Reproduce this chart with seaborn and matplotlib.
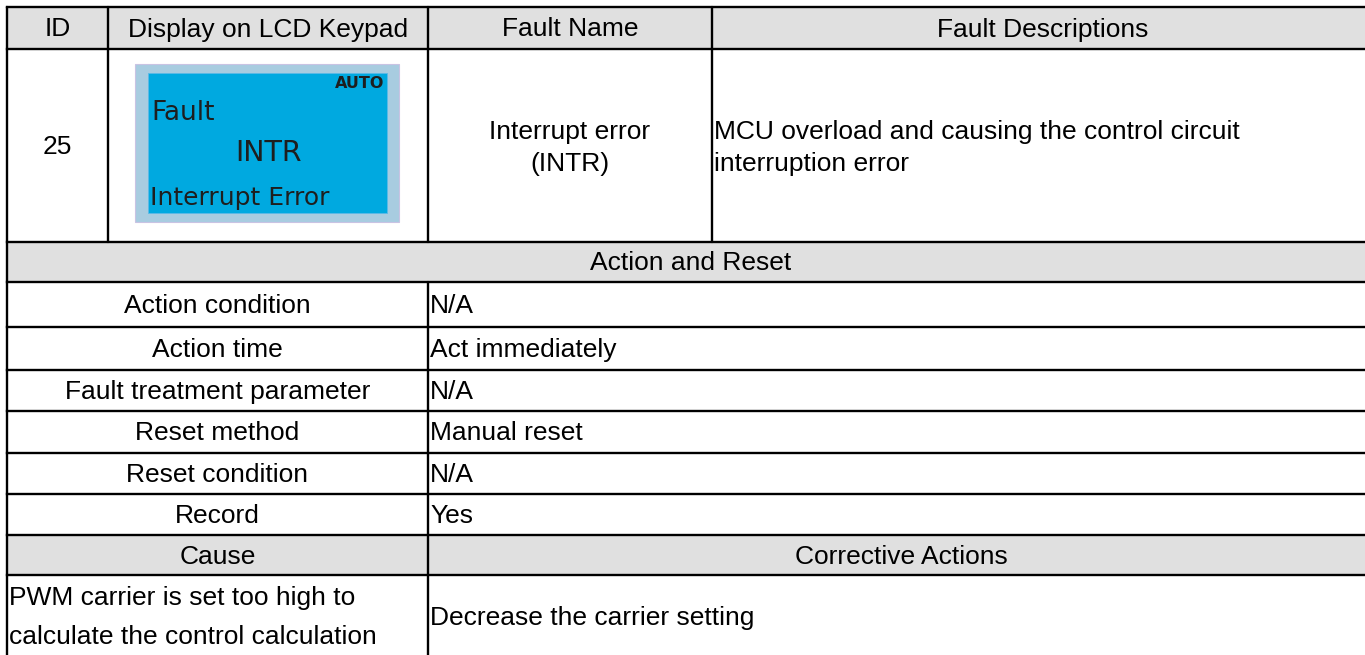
import matplotlib
matplotlib.use("Agg")
import matplotlib.pyplot as plt
from matplotlib.patches import Rectangle
import seaborn as sns

# ---- table content ----
header_labels = ["ID", "Display on LCD Keypad", "Fault Name", "Fault Descriptions"]
fault_id = "25"
lcd_mode = "AUTO"
lcd_lines = ["Fault", "INTR", "Interrupt Error"]
fault_name = ["Interrupt error", "(INTR)"]
fault_desc = ["MCU overload and causing the control circuit", "interruption error"]
section_title = "Action and Reset"
action_labels = ["Action condition", "Action time", "Fault treatment parameter",
                 "Reset method", "Reset condition", "Record"]
action_values = ["N/A", "Act immediately", "N/A", "Manual reset", "N/A", "Yes"]
cause_header = ["Cause", "Corrective Actions"]
causes = [["PWM carrier is set too high to", "calculate the control calculation"]]
corrective = ["Decrease the carrier setting"]

sns.set_theme(style="white")
plt.rcParams["font.family"] = ["Liberation Sans", "DejaVu Sans"]
plt.rcParams["text.color"] = "black"

W, H = 1365, 655
fig = plt.figure(figsize=(W / 100, H / 100), dpi=100)
ax = fig.add_axes([0, 0, 1, 1])
ax.set_xlim(0, W)
ax.set_ylim(H, 0)
ax.axis("off")

# layout (pixel grid)
xL, xR = 7, 1374
xc = [7, 108, 428, 712, 1374]
yh = [7, 49, 242, 282, 327, 370, 411, 453, 494, 535, 575]
yB = 700
gray = "#E0E0E0"
lw = 1.7
fs = 19
dy = 1.5  # small baseline nudge

# gray fills
for (y0, y1) in [(yh[0], yh[1]), (yh[2], yh[3]), (yh[9], yh[10])]:
    ax.add_patch(Rectangle((xL, y0), xR - xL, y1 - y0, facecolor=gray, edgecolor="none", zorder=0))

# horizontal lines
for y in yh:
    ax.plot([xL, xR], [y, y], color="black", lw=lw, solid_capstyle="projecting", zorder=3)
# vertical lines
ax.plot([xL, xL], [yh[0], yB], color="black", lw=lw, zorder=3)
for x in xc[1:4]:
    ax.plot([x, x], [yh[0], yh[2]], color="black", lw=lw, zorder=3)
ax.plot([xc[2], xc[2]], [yh[3], yB], color="black", lw=lw, zorder=3)

# header
for i, lab in enumerate(header_labels):
    ax.text((xc[i] + xc[i + 1]) / 2, (yh[0] + yh[1]) / 2 + dy, lab, ha="center", va="center", fontsize=fs)

# row 1
ax.text((xc[0] + xc[1]) / 2, 145 + dy, fault_id, ha="center", va="center", fontsize=fs)
for k, line in enumerate(fault_name):
    ax.text((xc[2] + xc[3]) / 2, 131 + dy + 31 * k, line, ha="center", va="center", fontsize=fs)
for k, line in enumerate(fault_desc):
    ax.text(xc[3] + 2, 131 + dy + 31 * k, line, ha="left", va="center", fontsize=fs)

# LCD keypad picture
ax.add_patch(Rectangle((135, 64), 264, 158, facecolor="#A8CCE0", edgecolor="#C9C3E3", lw=0.8, zorder=1))
ax.add_patch(Rectangle((148, 73), 239, 140, facecolor="#00A9E0", edgecolor="#5DB9E6", lw=0.6, zorder=2))
lcd_col = "#1E1E1E"
ax.text(384, 84, lcd_mode, ha="right", va="center", fontsize=11.5, fontweight="bold",
        color=lcd_col, family="DejaVu Sans", zorder=4)
ax.text(151, 113, lcd_lines[0], ha="left", va="center", fontsize=19, color=lcd_col,
        family="DejaVu Sans", zorder=4)
ax.text(269, 153, lcd_lines[1], ha="center", va="center", fontsize=20.5, color=lcd_col,
        family="DejaVu Sans", zorder=4)
ax.text(150, 198, lcd_lines[2], ha="left", va="center", fontsize=18, color=lcd_col,
        family="DejaVu Sans", zorder=4)

# Action and Reset section
ax.text((xL + xR) / 2, (yh[2] + yh[3]) / 2 + dy, section_title, ha="center", va="center", fontsize=fs)
for i, (lab, val) in enumerate(zip(action_labels, action_values)):
    yc = (yh[3 + i] + yh[4 + i]) / 2 + dy
    ax.text((xc[0] + xc[2]) / 2, yc, lab, ha="center", va="center", fontsize=fs)
    ax.text(xc[2] + 2, yc, val, ha="left", va="center", fontsize=fs)

# Cause / corrective
yc = (yh[9] + yh[10]) / 2 + dy
ax.text((xc[0] + xc[2]) / 2, yc, cause_header[0], ha="center", va="center", fontsize=fs)
ax.text((xc[2] + xR) / 2, yc, cause_header[1], ha="center", va="center", fontsize=fs)
for c_lines, corr in zip(causes, corrective):
    for k, line in enumerate(c_lines):
        ax.text(xL + 2, 597 + dy + 38 * k, line, ha="left", va="center", fontsize=fs)
    ax.text(xc[2] + 2, 616 + dy, corr, ha="left", va="center", fontsize=fs)

fig.savefig("out.png", dpi=100, facecolor="white")
